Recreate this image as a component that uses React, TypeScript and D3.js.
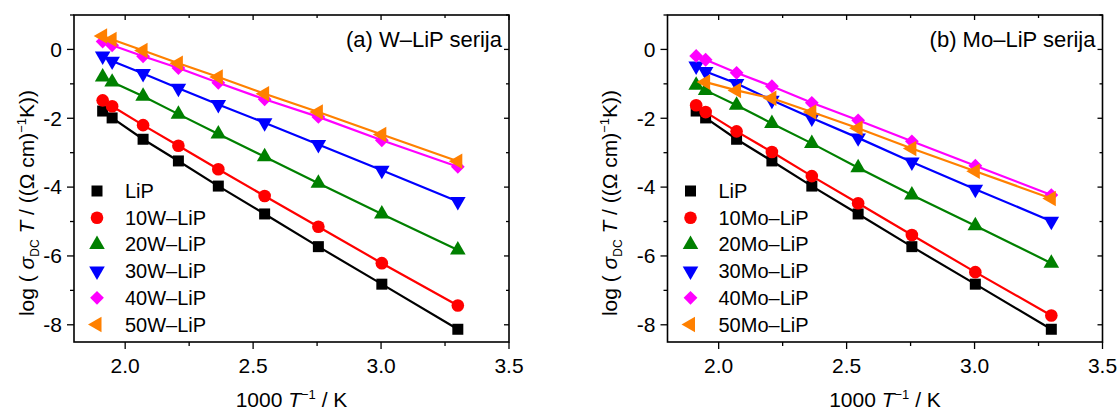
import React from 'react';
import * as d3 from 'd3';

// 1000/T values (K^-1 * 1000)
const xVals = [1.912, 1.949, 2.070, 2.208, 2.364, 2.545, 2.755, 3.003, 3.300];
const xVals50Mo = [1.949, 2.070, 2.208, 2.364, 2.545, 2.755, 3.003, 3.300];

const yLiP = [-1.79, -1.99, -2.61, -3.24, -3.97, -4.78, -5.73, -6.82, -8.13];
const y10W = [-1.48, -1.65, -2.20, -2.80, -3.48, -4.26, -5.15, -6.21, -7.44];
const y20W = [-0.80, -0.95, -1.36, -1.88, -2.46, -3.12, -3.89, -4.78, -5.83];
const y30W = [-0.19, -0.34, -0.70, -1.13, -1.60, -2.13, -2.76, -3.51, -4.42];
const y40W = [0.23, 0.12, -0.20, -0.54, -0.97, -1.45, -1.96, -2.64, -3.41];
const y50W = [0.39, 0.29, -0.03, -0.40, -0.80, -1.29, -1.82, -2.47, -3.25];

const y10Mo = [-1.62, -1.82, -2.38, -2.98, -3.68, -4.47, -5.39, -6.47, -7.73];
const y20Mo = [-1.04, -1.19, -1.62, -2.15, -2.73, -3.44, -4.23, -5.12, -6.21];
const y30Mo = [-0.48, -0.64, -0.99, -1.48, -1.99, -2.57, -3.27, -4.06, -4.99];
const y40Mo = [-0.19, -0.30, -0.68, -1.07, -1.55, -2.06, -2.67, -3.38, -4.23];
const y50Mo = [-0.95, -1.19, -1.42, -1.82, -2.29, -2.88, -3.54, -4.33];

const namesW = ['LiP', '10W\u2013LiP', '20W\u2013LiP', '30W\u2013LiP', '40W\u2013LiP', '50W\u2013LiP'];
const namesMo = ['LiP', '10Mo\u2013LiP', '20Mo\u2013LiP', '30Mo\u2013LiP', '40Mo\u2013LiP', '50Mo\u2013LiP'];
const titleW = '(a) W\u2013LiP serija';
const titleMo = '(b) Mo\u2013LiP serija';
const colors = ['#000000', '#ff0000', '#008000', '#0000ff', '#ff00ff', '#ff8000'];
const shapes = ['square', 'circle', 'up', 'down', 'diamond', 'left'];

const xTicks = [2.0, 2.5, 3.0, 3.5];
const xMinor = [2.25, 2.75, 3.25];
const yTicks = [0, -2, -4, -6, -8];
const yMinor = [1, -1, -3, -5, -7];

const W = 1118, H = 412;
const PW = 435, PH = 327, PY = 15;
const FONT = 'Liberation Sans, Arial, sans-serif';
const FS_TICK = 21;
const FS_TITLE = 22;
const FS_LEG = 20;
const FS_LABEL = 21;

const xScale = d3.scaleLinear().domain([1.8, 3.5]).range([0, PW]);
const yScale = d3.scaleLinear().domain([1, -8.5]).range([0, PH]);

function markerPath(shape: string): { d: string; rot: number } {
  switch (shape) {
    case 'square':
      return { d: d3.symbol().type(d3.symbolSquare).size(121)()!, rot: 0 };
    case 'circle':
      return { d: d3.symbol().type(d3.symbolCircle).size(125)()!, rot: 0 };
    case 'up':
      return { d: d3.symbol().type(d3.symbolTriangle).size(105)()!, rot: 0 };
    case 'down':
      return { d: d3.symbol().type(d3.symbolTriangle).size(105)()!, rot: 180 };
    case 'diamond':
      return { d: d3.symbol().type(d3.symbolSquare).size(95)()!, rot: 45 };
    case 'left':
    default:
      return { d: d3.symbol().type(d3.symbolTriangle).size(105)()!, rot: -90 };
  }
}

function Marker({ x, y, shape, color }: { x: number; y: number; shape: string; color: string }) {
  const m = markerPath(shape);
  return <path d={m.d} transform={`translate(${x},${y}) rotate(${m.rot})`} fill={color} />;
}

type Series = { xs: number[]; ys: number[] };

function Panel({ x0, series, names, title, labelX }: { x0: number; series: Series[]; names: string[]; title: string; labelX: number }) {
  const line = d3.line<[number, number]>().x(d => xScale(d[0])).y(d => yScale(d[1]));
  return (
    <g>
      <g transform={`translate(${x0},${PY})`}>
        {series.map((s, i) => {
          const pts: [number, number][] = s.xs.map((xv, j) => [xv, s.ys[j]]);
          return (
            <g key={i}>
              <path d={line(pts)!} fill="none" stroke={colors[i]} strokeWidth={2.2} />
              {pts.map((p, j) => (
                <Marker key={j} x={xScale(p[0])} y={yScale(p[1])} shape={shapes[i]} color={colors[i]} />
              ))}
            </g>
          );
        })}
        <rect x={0} y={0} width={PW} height={PH} fill="none" stroke="#000" strokeWidth={1.6} />
        {xTicks.map(t => (
          <g key={'xt' + t}>
            <line x1={xScale(t)} x2={xScale(t)} y1={PH} y2={PH + 7} stroke="#000" strokeWidth={1.3} />
            <line x1={xScale(t)} x2={xScale(t)} y1={0} y2={5} stroke="#000" strokeWidth={1.3} />
            <text x={xScale(t)} y={PH + 31} textAnchor="middle" fontFamily={FONT} fontSize={FS_TICK} fill="#000">
              {t.toFixed(1)}
            </text>
          </g>
        ))}
        {xMinor.map(t => (
          <g key={'xm' + t}>
            <line x1={xScale(t)} x2={xScale(t)} y1={PH} y2={PH + 4} stroke="#000" strokeWidth={1.3} />
            <line x1={xScale(t)} x2={xScale(t)} y1={0} y2={3} stroke="#000" strokeWidth={1.3} />
          </g>
        ))}
        {yTicks.map(t => (
          <g key={'yt' + t}>
            <line x1={-7} x2={0} y1={yScale(t)} y2={yScale(t)} stroke="#000" strokeWidth={1.3} />
            <line x1={PW - 5} x2={PW} y1={yScale(t)} y2={yScale(t)} stroke="#000" strokeWidth={1.3} />
            <text x={-12} y={yScale(t)} dy="0.35em" textAnchor="end" fontFamily={FONT} fontSize={FS_TICK} fill="#000">
              {String(t)}
            </text>
          </g>
        ))}
        {yMinor.map(t => (
          <g key={'ym' + t}>
            <line x1={-4} x2={0} y1={yScale(t)} y2={yScale(t)} stroke="#000" strokeWidth={1.3} />
            <line x1={PW - 3} x2={PW} y1={yScale(t)} y2={yScale(t)} stroke="#000" strokeWidth={1.3} />
          </g>
        ))}
        <text x={PW - 7} y={32} textAnchor="end" fontFamily={FONT} fontSize={FS_TITLE} fill="#000">{title}</text>
        {names.map((n, i) => {
          const ly = 176 + i * 26.7;
          return (
            <g key={'lg' + i}>
              <Marker x={23} y={ly} shape={shapes[i]} color={colors[i]} />
              <text x={51} y={ly} dy="0.35em" fontFamily={FONT} fontSize={FS_LEG} fill="#000">{n}</text>
            </g>
          );
        })}
        <text x={PW / 2} y={PH + 65} textAnchor="middle" fontFamily={FONT} fontSize={FS_LABEL} fill="#000">
          1000 <tspan fontStyle="italic">T</tspan>
          <tspan dy={-8} fontSize={13}>{'\u22121'}</tspan>
          <tspan dy={8}> / K</tspan>
        </text>
      </g>
      <text transform={`translate(${labelX},${203}) rotate(-90)`} textAnchor="middle" fontFamily={FONT} fontSize={FS_LABEL} fill="#000">
        log ( <tspan fontStyle="italic">{'\u03c3'}</tspan>
        <tspan dy={5} fontSize={12}>DC</tspan>
        <tspan dy={-5}> </tspan>
        <tspan fontStyle="italic">T</tspan>
        <tspan>{' / ((\u03a9 cm)'}</tspan>
        <tspan dy={-8} fontSize={13}>{'\u22121'}</tspan>
        <tspan dy={8}>K))</tspan>
      </text>
    </g>
  );
}

export default function App() {
  const seriesW: Series[] = [
    { xs: xVals, ys: yLiP },
    { xs: xVals, ys: y10W },
    { xs: xVals, ys: y20W },
    { xs: xVals, ys: y30W },
    { xs: xVals, ys: y40W },
    { xs: xVals, ys: y50W },
  ];
  const seriesMo: Series[] = [
    { xs: xVals, ys: yLiP },
    { xs: xVals, ys: y10Mo },
    { xs: xVals, ys: y20Mo },
    { xs: xVals, ys: y30Mo },
    { xs: xVals, ys: y40Mo },
    { xs: xVals50Mo, ys: y50Mo },
  ];
  return (
    <svg width={W} height={H} style={{ position: 'absolute', left: 0, top: 0, background: '#fff' }}>
      <rect width={W} height={H} fill="#fff" />
      <Panel x0={74} series={seriesW} names={namesW} title={titleW} labelX={34} />
      <Panel x0={667.5} series={seriesMo} names={namesMo} title={titleMo} labelX={617} />
    </svg>
  );
}
